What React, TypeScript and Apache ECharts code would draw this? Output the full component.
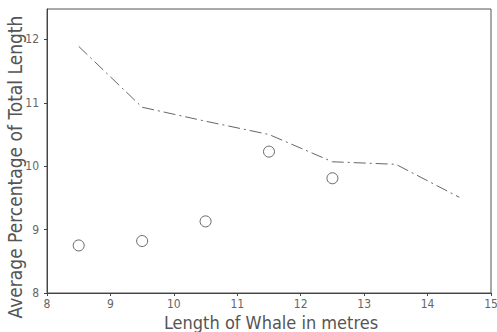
import React, { useEffect, useRef } from "react";
import * as echarts from "echarts";

const lineX = [8.5, 9.5, 10.5, 11.5, 12.5, 13.5, 14.5];
const lineY = [11.89, 10.93, 10.71, 10.5, 10.07, 10.03, 9.51];
const circleX = [8.5, 9.5, 10.5, 11.5, 12.5];
const circleY = [8.75, 8.82, 9.13, 10.23, 9.81];
const xTicks = [8, 9, 10, 11, 12, 13, 14, 15];
const yTicks = [8, 9, 10, 11, 12];
const xTitle = "Length of Whale in metres";
const yTitle = "Average Percentage of Total Length";

const FONT = "'Liberation Sans Narrow', 'DejaVu Sans Condensed', 'DejaVu Sans', sans-serif";

export default function App() {
  const ref = useRef<HTMLDivElement>(null);
  useEffect(() => {
    document.body.style.margin = "0";
    const chart = echarts.init(ref.current!, undefined, { renderer: "svg" });
    chart.setOption({
      animation: false,
      backgroundColor: "#ffffff",
      grid: {
        left: 47,
        right: 6,
        top: 9,
        bottom: 39,
        show: true,
        borderColor: "#555",
        borderWidth: 1,
        outerBoundsMode: "none",
      },
      xAxis: {
        type: "value",
        min: xTicks[0],
        max: xTicks[xTicks.length - 1],
        interval: 1,
        axisLine: { show: true, lineStyle: { color: "#444", width: 1 } },
        axisTick: { show: true, length: 3, lineStyle: { color: "#444" } },
        axisLabel: { fontFamily: FONT, fontSize: 12, color: "#666", margin: 5 },
        splitLine: { show: false },
      },
      yAxis: {
        type: "value",
        min: yTicks[0],
        max: 12.48,
        interval: 1,
        axisLine: { show: true, lineStyle: { color: "#444", width: 1 } },
        axisTick: { show: true, length: 3, lineStyle: { color: "#444" } },
        axisLabel: {
          fontFamily: FONT,
          fontSize: 12,
          color: "#666",
          margin: 8,
          showMaxLabel: false,
          formatter: (v: number) => (yTicks.includes(v) ? String(v) : ""),
        },
        splitLine: { show: false },
      },
      graphic: [
        {
          type: "text",
          x: 15,
          y: 167,
          rotation: Math.PI / 2,
          style: {
            text: yTitle,
            fontFamily: FONT,
            fontSize: 19,
            fill: "#555",
            align: "center",
            verticalAlign: "middle",
          },
        },
        {
          type: "text",
          x: 271,
          y: 322,
          style: {
            text: xTitle,
            fontFamily: FONT,
            fontSize: 18,
            fill: "#555",
            align: "center",
            verticalAlign: "middle",
          },
        },
      ],
      series: [
        {
          type: "line",
          data: lineX.map((x, i) => [x, lineY[i]]),
          symbol: "none",
          lineStyle: { color: "#666", width: 1, type: [12, 4, 2, 4] },
        },
        {
          type: "scatter",
          data: circleX.map((x, i) => [x, circleY[i]]),
          symbol: "circle",
          symbolSize: 11,
          itemStyle: { color: "#ffffff", borderColor: "#444", borderWidth: 1 },
        },
      ],
    });
    return () => chart.dispose();
  }, []);
  return <div ref={ref} style={{ width: 497, height: 332 }} />;
}
